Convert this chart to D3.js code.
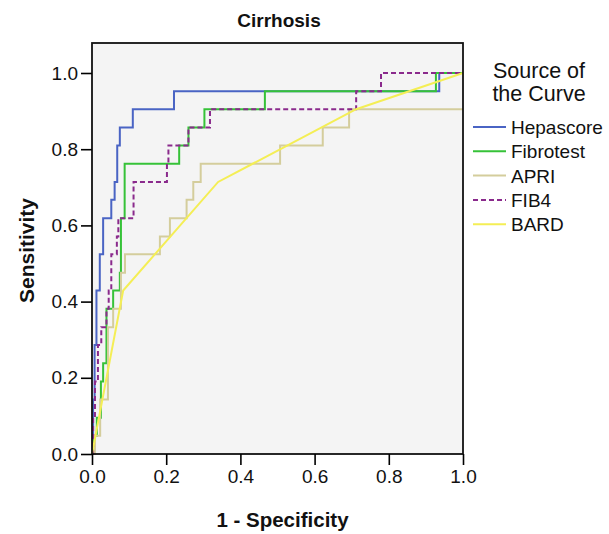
<!DOCTYPE html>
<html>
<head>
<meta charset="utf-8">
<style>
    body { margin: 0; background: #fff; }
    text { font-family: "Liberation Sans", Arial, sans-serif; fill: #111; }
    .tick text { font-size: 19px; }
    .tick line { stroke: #000; stroke-width: 1.6; }
    .curve { fill: none; stroke-width: 2; }
</style>
</head>
<body>
<script src="https://cdn.jsdelivr.net/npm/d3@7/dist/d3.min.js"></script>
<script>
// ROC operating points per test: [1 - specificity, sensitivity]
var hepascore = [[0,0],[0.003,0.143],[0.007,0.286],[0.012,0.429],[0.021,0.524],[0.030,0.619],[0.052,0.667],[0.061,0.714],[0.068,0.810],[0.075,0.857],[0.110,0.905],[0.221,0.952],[0.936,1.0],[1,1]];
var fibrotest = [[0,0],[0.005,0.048],[0.013,0.095],[0.024,0.190],[0.030,0.238],[0.039,0.381],[0.057,0.429],[0.075,0.476],[0.078,0.619],[0.088,0.762],[0.235,0.810],[0.260,0.857],[0.303,0.905],[0.466,0.952],[0.927,1.0],[1,1]];
var apri = [[0,0],[0.008,0.048],[0.022,0.143],[0.043,0.333],[0.057,0.381],[0.078,0.476],[0.089,0.524],[0.183,0.571],[0.210,0.619],[0.255,0.667],[0.273,0.714],[0.293,0.762],[0.507,0.810],[0.622,0.857],[0.693,0.905],[1,0.905]];
var fib4 = [[0,0],[0.003,0.095],[0.008,0.190],[0.016,0.286],[0.025,0.333],[0.039,0.381],[0.045,0.429],[0.052,0.524],[0.067,0.571],[0.071,0.619],[0.112,0.714],[0.202,0.762],[0.206,0.810],[0.260,0.857],[0.318,0.905],[0.712,0.952],[0.779,1.0],[1,1]];
var bard = [[0,0],[0.084,0.429],[0.340,0.714],[0.712,0.905],[1,1]];

var seriesNames = ["Hepascore", "Fibrotest", "APRI", "FIB4", "BARD"];
var xTicks = [0, 0.2, 0.4, 0.6, 0.8, 1.0];
var yTicks = [0, 0.2, 0.4, 0.6, 0.8, 1.0];

var series = [
    { name: seriesNames[0], data: hepascore, color: "#4a64c4", step: true },
    { name: seriesNames[1], data: fibrotest, color: "#36c238", step: true },
    { name: seriesNames[2], data: apri, color: "#d4cd9c", step: true },
    { name: seriesNames[3], data: fib4, color: "#8a2a8c", step: true, dash: "5,3" },
    { name: seriesNames[4], data: bard, color: "#f4ee55", step: false }
];

var width = 609, height = 534;
var plotLeft = 92, plotRight = 463, plotTop = 43, plotBottom = 454;

var svg = d3.select("body").append("svg")
    .attr("width", width)
    .attr("height", height);

var x = d3.scaleLinear().domain([0, 1]).range([plotLeft, plotRight]);
var y = d3.scaleLinear().domain([0, 1]).range([plotBottom, 73]);

// plot background
svg.append("rect")
    .attr("x", plotLeft).attr("y", plotTop)
    .attr("width", plotRight - plotLeft).attr("height", plotBottom - plotTop)
    .attr("fill", "#f4f4f4");

var lineStep = d3.line()
    .x(function(d) { return x(d[0]); })
    .y(function(d) { return y(d[1]); })
    .curve(d3.curveStepAfter);

var lineStraight = d3.line()
    .x(function(d) { return x(d[0]); })
    .y(function(d) { return y(d[1]); });

svg.selectAll(".curve")
    .data(series)
    .enter().append("path")
    .attr("class", "curve")
    .attr("stroke", function(d) { return d.color; })
    .attr("stroke-dasharray", function(d) { return d.dash || null; })
    .attr("d", function(d) { return d.step ? lineStep(d.data) : lineStraight(d.data); });

// frame
svg.append("rect")
    .attr("x", plotLeft).attr("y", plotTop)
    .attr("width", plotRight - plotLeft).attr("height", plotBottom - plotTop)
    .attr("fill", "none")
    .attr("stroke", "#111")
    .attr("stroke-width", 1.8);

var xAxis = svg.append("g")
    .attr("transform", "translate(0," + plotBottom + ")")
    .call(d3.axisBottom(x).tickValues(xTicks).tickFormat(d3.format(".1f")).tickSize(11).tickPadding(5).tickSizeOuter(0));
xAxis.select(".domain").remove();

var yAxis = svg.append("g")
    .attr("transform", "translate(" + plotLeft + ",0)")
    .call(d3.axisLeft(y).tickValues(yTicks).tickFormat(d3.format(".1f")).tickSize(11).tickPadding(3).tickSizeOuter(0));
yAxis.select(".domain").remove();

svg.selectAll(".tick text").attr("fill", "#111");

// titles
svg.append("text")
    .attr("x", 279).attr("y", 27)
    .attr("text-anchor", "middle")
    .style("font-size", "19px").style("font-weight", "bold")
    .text("Cirrhosis");

svg.append("text")
    .attr("x", (plotLeft + plotRight) / 2 + 5).attr("y", 527)
    .attr("text-anchor", "middle")
    .style("font-size", "20.5px").style("font-weight", "bold")
    .text("1 - Specificity");

svg.append("text")
    .attr("transform", "translate(34," + ((plotTop + plotBottom) / 2 + 2) + ") rotate(-90)")
    .attr("text-anchor", "middle")
    .style("font-size", "21px").style("font-weight", "bold")
    .text("Sensitivity");

// legend
var legend = svg.append("g");
legend.append("text")
    .attr("x", 539).attr("y", 78)
    .attr("text-anchor", "middle")
    .style("font-size", "21.5px")
    .text("Source of");
legend.append("text")
    .attr("x", 539).attr("y", 101)
    .attr("text-anchor", "middle")
    .style("font-size", "21.5px")
    .text("the Curve");

var items = legend.selectAll(".item")
    .data(series)
    .enter().append("g")
    .attr("class", "item")
    .attr("transform", function(d, i) { return "translate(0," + (127 + i * 24.3) + ")"; });

items.append("line")
    .attr("x1", 473).attr("x2", 506)
    .attr("stroke", function(d) { return d.color; })
    .attr("stroke-width", 2)
    .attr("stroke-dasharray", function(d) { return d.dash || null; });

items.append("text")
    .attr("x", 511).attr("y", 7)
    .style("font-size", "19px")
    .text(function(d) { return d.name; });
</script>
</body>
</html>
